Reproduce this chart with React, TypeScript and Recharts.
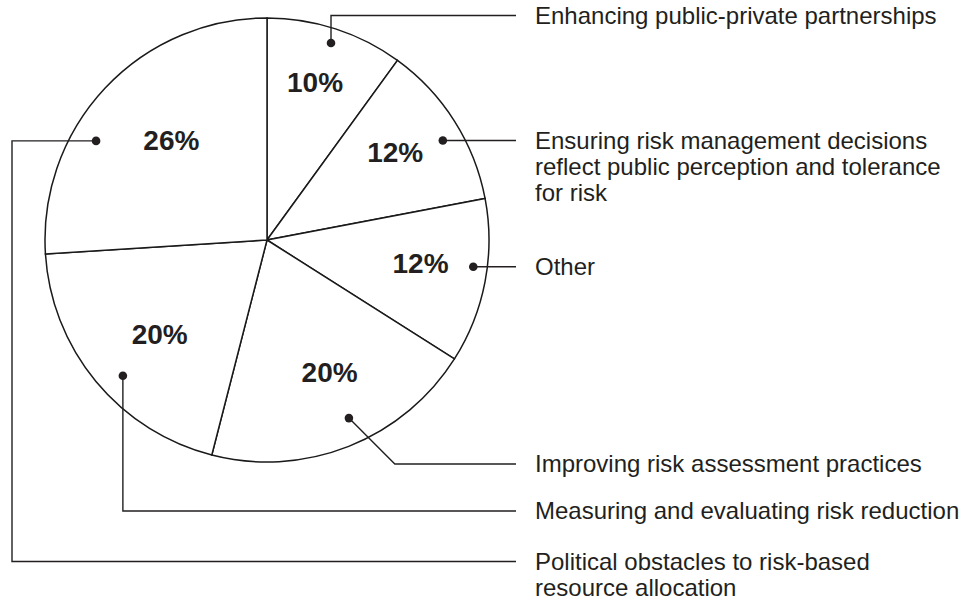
import React from "react";
import { PieChart, Pie, Cell } from "recharts";

const categories = [
  "Enhancing public-private partnerships",
  "Ensuring risk management decisions reflect public perception and tolerance for risk",
  "Other",
  "Improving risk assessment practices",
  "Measuring and evaluating risk reduction",
  "Political obstacles to risk-based resource allocation",
];

const shares = [10, 12, 12, 20, 20, 26];

const labelLines = [
  ["Enhancing public-private partnerships"],
  ["Ensuring risk management decisions", "reflect public perception and tolerance", "for risk"],
  ["Other"],
  ["Improving risk assessment practices"],
  ["Measuring and evaluating risk reduction"],
  ["Political obstacles to risk-based", "resource allocation"],
];

// layout of annotation callouts (angles relative to slice mid-angle, radii as fraction of outer radius)
type Route = "vertical" | "direct" | "diagonal" | "around";
const callouts: { pctDelta: number; pctR: number; dotDelta: number; dotR: number; route: Route; labelY?: number; railX?: number }[] = [
  { pctDelta: 1, pctR: 0.74, dotDelta: 0, dotR: 0.933, route: "vertical", labelY: 15.5 },
  { pctDelta: 2, pctR: 0.70, dotDelta: -2.9, dotR: 0.91, route: "direct" },
  { pctDelta: 2, pctR: 0.70, dotDelta: 3.4, dotR: 0.937, route: "direct" },
  { pctDelta: 3.7, pctR: 0.66, dotDelta: 3.1, dotR: 0.883, route: "diagonal", labelY: 464 },
  { pctDelta: 1.9, pctR: 0.645, dotDelta: 3.7, dotR: 0.892, route: "vertical", labelY: 511 },
  { pctDelta: -2.8, pctR: 0.62, dotDelta: 13.1, dotR: 0.89, route: "around", labelY: 561.5, railX: 12 },
];

const data = categories.map((name, i) => ({ name, value: shares[i] }));

const RAD = Math.PI / 180;
const LEADER_END = 516;
const TEXT_X = 535;
const INK = "#231f20";
const FONT = "'Liberation Sans', Arial, Helvetica, sans-serif";

const polar = (cx: number, cy: number, r: number, angle: number) => ({
  x: cx + r * Math.cos(-angle * RAD),
  y: cy + r * Math.sin(-angle * RAD),
});

const renderLabel = (props: any) => {
  const { cx, cy, midAngle, outerRadius, index, value } = props;
  const c = callouts[index];
  const pct = polar(cx, cy, outerRadius * c.pctR, midAngle + c.pctDelta);
  const dot = polar(cx, cy, outerRadius * c.dotR, midAngle + c.dotDelta);
  let points: { x: number; y: number }[] = [];
  let ly = dot.y;
  if (c.route === "direct") {
    points = [dot, { x: LEADER_END, y: dot.y }];
  } else if (c.route === "vertical") {
    ly = c.labelY as number;
    points = [dot, { x: dot.x, y: ly }, { x: LEADER_END, y: ly }];
  } else if (c.route === "diagonal") {
    ly = c.labelY as number;
    const d = ly - dot.y;
    points = [dot, { x: dot.x + d, y: ly }, { x: LEADER_END, y: ly }];
  } else {
    ly = c.labelY as number;
    const rx = c.railX as number;
    points = [dot, { x: rx, y: dot.y }, { x: rx, y: ly }, { x: LEADER_END, y: ly }];
  }
  const path = points.map((p, i) => `${i === 0 ? "M" : "L"}${p.x},${p.y}`).join(" ");
  return (
    <g key={`lbl-${index}`}>
      <text
        x={pct.x}
        y={pct.y}
        textAnchor="middle"
        dominantBaseline="central"
        fontFamily={FONT}
        fontWeight="bold"
        fontSize={28}
        fill={INK}
      >
        {`${value}%`}
      </text>
      <path d={path} fill="none" stroke={INK} strokeWidth={1.4} />
      <circle cx={dot.x} cy={dot.y} r={4.3} fill={INK} />
      <text x={TEXT_X} y={ly + 8} fontFamily={FONT} fontSize={24} fill={INK}>
        {labelLines[index].map((line, j) => (
          <tspan key={j} x={TEXT_X} dy={j === 0 ? 0 : 26}>
            {line}
          </tspan>
        ))}
      </text>
    </g>
  );
};

export default function App() {
  return (
    <div style={{ position: "absolute", left: 0, top: 0, background: "#fff" }}>
      <PieChart width={974} height={600} margin={{ top: 0, right: 0, bottom: 0, left: 0 }}>
        <Pie
          data={data}
          dataKey="value"
          nameKey="name"
          cx={267}
          cy={240}
          outerRadius={222}
          startAngle={90}
          endAngle={-270}
          fill="#ffffff"
          stroke="#1a1a1a"
          strokeWidth={1.5}
          label={renderLabel}
          labelLine={false}
          isAnimationActive={false}
        >
          {data.map((d, i) => (
            <Cell key={d.name} fill="#ffffff" stroke="#1a1a1a" />
          ))}
        </Pie>
      </PieChart>
    </div>
  );
}
